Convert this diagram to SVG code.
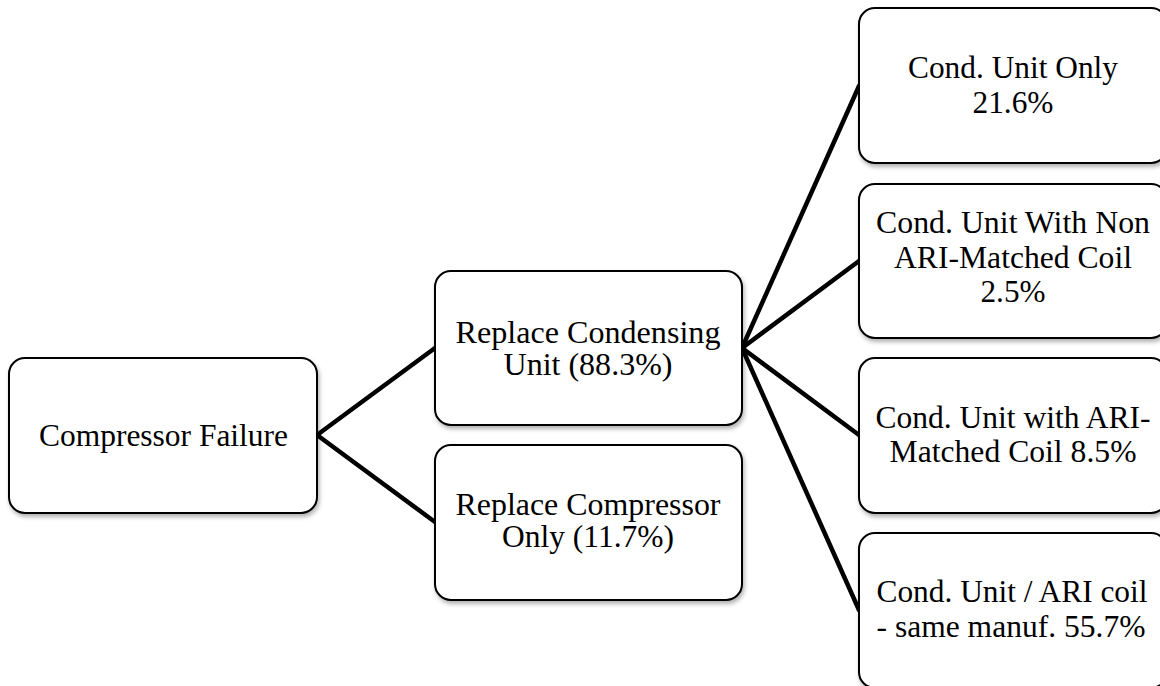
<svg xmlns="http://www.w3.org/2000/svg" width="1160" height="686" viewBox="0 0 1160 686">
<defs>
<filter id="sh" x="-10%" y="-10%" width="120%" height="130%">
<feDropShadow dx="1.5" dy="3" stdDeviation="2" flood-color="#000" flood-opacity="0.3"/>
</filter>
<style>
.box{fill:#fff;stroke:#000;stroke-width:2;filter:url(#sh)}
.t{font-family:"Liberation Serif","DejaVu Serif",serif;font-size:31px;fill:#000;text-anchor:middle}
.c{stroke:#000;stroke-width:4.5;fill:none;stroke-linecap:round}
</style>
</defs>
<rect width="1160" height="686" fill="#fff"/>
<g id="connectors">
<line class="c" x1="317" y1="435" x2="435" y2="348"/>
<line class="c" x1="317" y1="435" x2="435" y2="522"/>
<line class="c" x1="742" y1="348" x2="859" y2="86"/>
<line class="c" x1="742" y1="348" x2="859" y2="261"/>
<line class="c" x1="742" y1="348" x2="859" y2="435"/>
<line class="c" x1="742" y1="348" x2="859" y2="610"/>
</g>
<g id="n-compressor-failure">
<rect class="box" x="9" y="358" width="308" height="155" rx="16"/>
<text class="t" x="163.5" y="446" textLength="249" lengthAdjust="spacingAndGlyphs">Compressor Failure</text>
</g>
<g id="n-replace-condensing">
<rect class="box" x="435" y="271" width="307" height="154" rx="16"/>
<text class="t" x="588" y="342.5" textLength="265" lengthAdjust="spacingAndGlyphs">Replace Condensing</text>
<text class="t" x="588" y="375" textLength="169" lengthAdjust="spacingAndGlyphs">Unit (88.3%)</text>
</g>
<g id="n-replace-compressor">
<rect class="box" x="435" y="445" width="307" height="155" rx="16"/>
<text class="t" x="588" y="515" textLength="265" lengthAdjust="spacingAndGlyphs">Replace Compressor</text>
<text class="t" x="588" y="547" textLength="172" lengthAdjust="spacingAndGlyphs">Only (11.7%)</text>
</g>
<g id="n-cond-unit-only">
<rect class="box" x="859" y="8" width="308" height="155" rx="16"/>
<text class="t" x="1013" y="78" textLength="210" lengthAdjust="spacingAndGlyphs">Cond. Unit Only</text>
<text class="t" x="1013" y="113" textLength="81" lengthAdjust="spacingAndGlyphs">21.6%</text>
</g>
<g id="n-non-ari">
<rect class="box" x="859" y="184" width="308" height="154" rx="16"/>
<text class="t" x="1013" y="233" textLength="274" lengthAdjust="spacingAndGlyphs">Cond. Unit With Non</text>
<text class="t" x="1013" y="268" textLength="238" lengthAdjust="spacingAndGlyphs">ARI-Matched Coil</text>
<text class="t" x="1013" y="302" textLength="65" lengthAdjust="spacingAndGlyphs">2.5%</text>
</g>
<g id="n-ari-matched">
<rect class="box" x="859" y="358" width="308" height="155" rx="16"/>
<text class="t" x="1013" y="428" textLength="275" lengthAdjust="spacingAndGlyphs">Cond. Unit with ARI-</text>
<text class="t" x="1013" y="462" textLength="247" lengthAdjust="spacingAndGlyphs">Matched Coil 8.5%</text>
</g>
<g id="n-same-manuf">
<rect class="box" x="859" y="533" width="308" height="155" rx="16"/>
<text class="t" x="1012" y="602" textLength="271" lengthAdjust="spacingAndGlyphs">Cond. Unit / ARI coil</text>
<text class="t" x="1011" y="637" textLength="269" lengthAdjust="spacingAndGlyphs">- same manuf. 55.7%</text>
</g>
</svg>
